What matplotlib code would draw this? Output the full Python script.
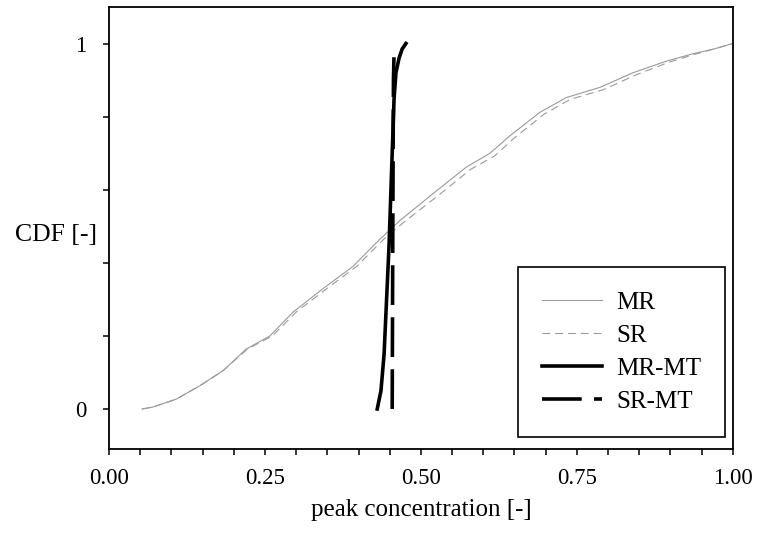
import matplotlib
matplotlib.use("Agg")
import matplotlib.pyplot as plt
import numpy as np

# Empirical CDFs of the peak concentration for each model variant
mr_x = [0.053, 0.070, 0.108, 0.146, 0.183, 0.220, 0.258, 0.295, 0.349, 0.391,
        0.434, 0.466, 0.520, 0.573, 0.611, 0.643, 0.691, 0.733, 0.787, 0.840,
        0.894, 0.936, 0.970, 1.000]
mr_y = [0.000, 0.005, 0.027, 0.064, 0.105, 0.164, 0.200, 0.265, 0.337, 0.390,
        0.464, 0.515, 0.590, 0.662, 0.700, 0.748, 0.812, 0.852, 0.880, 0.920,
        0.952, 0.972, 0.985, 1.000]

sr_x = [0.053, 0.070, 0.108, 0.146, 0.183, 0.222, 0.262, 0.300, 0.355, 0.397,
        0.440, 0.472, 0.527, 0.580, 0.618, 0.650, 0.697, 0.739, 0.793, 0.846,
        0.898, 0.938, 0.970, 1.000]
sr_y = [0.000, 0.005, 0.027, 0.064, 0.105, 0.164, 0.200, 0.265, 0.337, 0.390,
        0.464, 0.510, 0.583, 0.656, 0.692, 0.742, 0.806, 0.847, 0.874, 0.915,
        0.949, 0.970, 0.985, 1.000]

mrmt_x = [0.430, 0.436, 0.441, 0.445, 0.449, 0.452, 0.455, 0.457, 0.460,
          0.465, 0.470, 0.476]
mrmt_y = [0.000, 0.050, 0.150, 0.300, 0.450, 0.600, 0.750, 0.850, 0.920,
          0.960, 0.985, 1.000]

srmt_x = [0.454, 0.455, 0.456, 0.457]
srmt_y = [0.000, 0.500, 0.900, 0.975]

y_ticks = [0.0, 0.2, 0.4, 0.6, 0.8, 1.0]
y_ticklabels = ["0", "", "", "", "", "1"]
x_ticks = [0.0, 0.25, 0.5, 0.75, 1.0]
x_ticklabels = ["0.00", "0.25", "0.50", "0.75", "1.00"]

plt.rcParams["font.family"] = ["Liberation Serif", "DejaVu Serif"]
plt.rcParams["font.size"] = 18

fig = plt.figure(figsize=(7.57, 5.36), dpi=100)
ax = fig.add_axes([0.144, 0.162, 0.824, 0.825])

ax.plot(mr_x, mr_y, color="#9a9a9a", lw=0.8, label="MR")
ax.plot(sr_x, sr_y, color="#9a9a9a", lw=0.8, dashes=(7, 4.5), label="SR")
ax.plot(mrmt_x, mrmt_y, color="black", lw=2.6, label="MR-MT")
ax.plot(srmt_x, srmt_y, color="black", lw=2.6, dashes=(11, 3.4), label="SR-MT")

ax.set_xlim(0, 1)
ax.set_ylim(-0.11, 1.10)

ax.set_xticks(x_ticks)
ax.set_xticklabels(x_ticklabels, fontsize=16.5)
ax.set_xticks(np.arange(0, 1.0001, 0.05), minor=True)
ax.set_yticks(y_ticks)
ax.set_yticklabels(y_ticklabels, fontsize=16.5)

ax.tick_params(axis="x", which="major", direction="out", length=4.5, width=1.1, pad=9)
ax.tick_params(axis="x", which="minor", direction="out", length=4, width=1.1)
ax.tick_params(axis="y", which="major", direction="out", length=4, width=1.1, pad=12)

for s in ax.spines.values():
    s.set_linewidth(1.3)

ax.set_xlabel("peak concentration [-]", labelpad=7)
ax.set_ylabel("CDF [-]", rotation=0, ha="right", va="center", fontsize=18.5)
ax.yaxis.set_label_coords(-0.019, 0.485)

leg = ax.legend(loc="lower right", bbox_to_anchor=(0.988, 0.028), frameon=True,
                fancybox=False, edgecolor="black", framealpha=1,
                handlelength=2.4, handletextpad=0.55, borderpad=0.97,
                labelspacing=0.42, borderaxespad=0)
leg.get_frame().set_linewidth(1.2)

fig.savefig("out.png", dpi=100)
